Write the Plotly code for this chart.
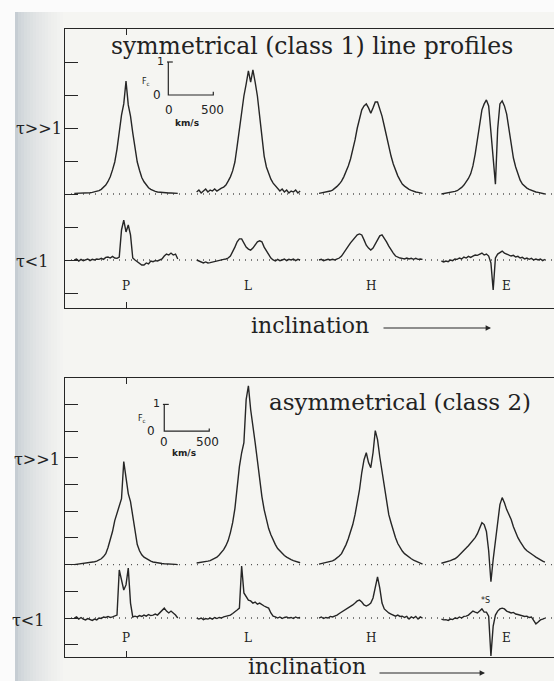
import plotly.graph_objects as go

FIG_W, FIG_H = 554, 681

# ---------------------------------------------------------------------------
# Line-profile data.  Velocity grid (km/s) shared by every profile; flux in
# units of the continuum (Fc).  Each panel has four inclination blocks.
# ---------------------------------------------------------------------------
VELOCITY_KMS = [-575, -550, -525, -500, -475, -450, -425, -400, -375, -350, -325, -300,
                -275, -250, -225, -200, -175, -150, -125, -100, -75, -50, -25, 0,
                25, 50, 75, 100, 125, 150, 175, 200, 225, 250, 275, 300, 325, 350,
                375, 400, 425, 450, 475, 500, 525, 550, 575]

PROFILE_LABELS = ["P", "L", "H", "E"]
PROFILE_OFFSET_KMS = [0, 1360, 2720, 4080]   # spacing of the inclination blocks
LABEL_SHIFT_KMS = [0, 0, 0, 150]
THICK_BASELINE = 2.0   # tau >> 1 row sits 2 Fc above the tau < 1 row
THIN_BASELINE = 0.0

# class 1 (symmetrical), tau >> 1
sym_thick_P = [0.02, 0.02, 0.02, 0.03, 0.03, 0.03, 0.04, 0.04, 0.05, 0.06, 0.08, 0.10,
               0.14, 0.20, 0.27, 0.38, 0.52, 0.73, 0.97, 1.36, 1.88, 2.39, 2.73, 3.42,
               2.70, 2.36, 1.85, 1.36, 0.97, 0.72, 0.50, 0.37, 0.26, 0.19, 0.14, 0.10,
               0.08, 0.06, 0.05, 0.04, 0.04, 0.03, 0.03, 0.03, 0.02, 0.02, 0.02]
sym_thick_L = [0.06, 0.12, 0.03, 0.09, 0.15, 0.06, 0.12, 0.09, 0.15, 0.09, 0.15, 0.18,
               0.21, 0.27, 0.39, 0.52, 0.70, 0.97, 1.45, 2.00, 2.48, 2.97, 3.33, 3.73,
               3.39, 3.76, 3.39, 2.97, 2.36, 1.76, 1.15, 0.82, 0.61, 0.45, 0.33, 0.24,
               0.15, 0.09, 0.15, 0.06, 0.12, 0.03, 0.09, 0.06, 0.12, 0.03, 0.09]
sym_thick_H = [0.02, 0.03, 0.05, 0.06, 0.08, 0.09, 0.12, 0.17, 0.23, 0.30, 0.39, 0.52,
               0.67, 0.85, 1.06, 1.33, 1.64, 2.00, 2.33, 2.55, 2.67, 2.73, 2.61, 2.45,
               2.61, 2.79, 2.79, 2.58, 2.36, 2.06, 1.73, 1.42, 1.15, 0.91, 0.70, 0.55,
               0.42, 0.30, 0.24, 0.18, 0.14, 0.11, 0.08, 0.06, 0.05, 0.03, 0.02]
sym_thick_E = [0.00, 0.01, 0.02, 0.04, 0.05, 0.06, 0.08, 0.10, 0.14, 0.20, 0.27, 0.36,
               0.47, 0.61, 0.85, 1.21, 1.64, 2.18, 2.55, 2.73, 2.85, 2.67, 1.88, 0.85,
               0.30, 1.97, 2.73, 2.82, 2.67, 2.42, 2.00, 1.52, 1.09, 0.82, 0.58, 0.42,
               0.30, 0.23, 0.18, 0.14, 0.11, 0.08, 0.06, 0.05, 0.03, 0.02, 0.00]

# class 1 (symmetrical), tau < 1
sym_thin_P = [0.00, 0.03, -0.03, 0.02, -0.02, 0.00, 0.03, -0.02, 0.02, 0.00, 0.03, 0.02,
              0.05, 0.02, 0.08, 0.09, 0.06, 0.11, 0.06, 0.05, 0.09, 0.91, 1.21, 0.85,
              1.06, 0.76, 0.06, 0.00, -0.06, -0.09, -0.15, -0.15, -0.09, -0.12, -0.03, -0.05,
              -0.02, -0.03, 0.00, 0.03, 0.12, 0.18, 0.15, 0.21, 0.15, 0.18, 0.03]
sym_thin_L = [0.00, -0.03, -0.06, -0.09, -0.06, -0.09, -0.08, -0.06, -0.05, -0.03, -0.02, 0.00,
              0.02, 0.03, 0.06, 0.12, 0.24, 0.39, 0.55, 0.64, 0.64, 0.52, 0.39, 0.33,
              0.30, 0.36, 0.45, 0.55, 0.58, 0.55, 0.39, 0.27, 0.15, 0.06, 0.00, -0.03,
              0.02, -0.02, 0.00, 0.03, -0.02, 0.02, 0.00, 0.03, -0.02, 0.02, 0.00]
sym_thin_H = [0.00, 0.02, -0.02, 0.00, 0.02, 0.00, 0.02, 0.00, 0.03, 0.06, 0.12, 0.21,
              0.30, 0.42, 0.52, 0.61, 0.70, 0.76, 0.79, 0.76, 0.61, 0.45, 0.36, 0.30,
              0.36, 0.48, 0.61, 0.73, 0.76, 0.67, 0.55, 0.42, 0.30, 0.21, 0.12, 0.08,
              0.06, 0.05, 0.03, 0.06, 0.03, 0.05, 0.02, 0.05, 0.02, 0.03, 0.02]
sym_thin_E = [-0.03, -0.06, -0.03, -0.05, 0.00, -0.02, 0.03, 0.02, 0.06, 0.03, 0.09, 0.06,
              0.11, 0.08, 0.12, 0.15, 0.14, 0.18, 0.21, 0.15, 0.18, 0.12, -0.09, -0.91,
              0.06, 0.18, 0.24, 0.27, 0.21, 0.18, 0.15, 0.12, 0.14, 0.09, 0.11, 0.06,
              0.08, 0.03, 0.06, 0.02, 0.05, 0.00, 0.03, 0.00, 0.03, -0.02, 0.02]

# class 2 (asymmetrical), tau >> 1
asym_thick_P = [0.00, 0.01, 0.02, 0.03, 0.04, 0.05, 0.06, 0.07, 0.09, 0.11, 0.13, 0.17,
                0.22, 0.30, 0.41, 0.64, 0.94, 1.24, 1.65, 1.91, 2.13, 2.47, 3.86, 3.18,
                2.66, 2.36, 1.84, 1.20, 0.75, 0.52, 0.37, 0.28, 0.22, 0.17, 0.13, 0.10,
                0.08, 0.07, 0.05, 0.04, 0.03, 0.03, 0.02, 0.01, 0.01, 0.01, 0.00]
asym_thick_L = [0.06, 0.07, 0.08, 0.10, 0.11, 0.13, 0.15, 0.19, 0.22, 0.28, 0.36, 0.45,
                0.56, 0.71, 0.90, 1.20, 1.57, 2.10, 2.92, 3.67, 4.19, 4.57, 6.18, 6.70,
                5.81, 5.24, 4.57, 3.90, 3.15, 2.55, 2.06, 1.69, 1.35, 1.12, 0.90, 0.75,
                0.60, 0.51, 0.41, 0.34, 0.28, 0.22, 0.19, 0.15, 0.12, 0.10, 0.07]
asym_thick_H = [0.02, 0.04, 0.05, 0.06, 0.08, 0.11, 0.14, 0.19, 0.24, 0.32, 0.41, 0.56,
                0.75, 0.97, 1.24, 1.50, 1.87, 2.32, 2.81, 3.45, 3.93, 4.19, 3.82, 3.63,
                4.19, 5.02, 4.68, 4.04, 3.45, 2.92, 2.32, 1.87, 1.57, 1.24, 1.01, 0.79,
                0.64, 0.51, 0.41, 0.34, 0.28, 0.22, 0.17, 0.13, 0.09, 0.06, 0.02]
asym_thick_E = [0.05, 0.07, 0.09, 0.12, 0.15, 0.19, 0.22, 0.28, 0.36, 0.43, 0.52, 0.62,
                0.71, 0.81, 0.90, 1.01, 1.16, 1.35, 1.57, 1.50, 1.24, 0.52, -0.64, 0.19,
                0.90, 1.65, 2.25, 2.51, 2.32, 2.06, 1.87, 1.69, 1.42, 1.20, 1.01, 0.86,
                0.71, 0.60, 0.52, 0.45, 0.39, 0.34, 0.28, 0.22, 0.17, 0.13, 0.09]

# class 2 (asymmetrical), tau < 1
asym_thin_P = [0.00, 0.04, -0.04, 0.02, -0.04, -0.07, -0.02, -0.06, -0.09, -0.04, -0.07, 0.00,
               -0.02, 0.04, 0.02, 0.06, 0.02, 0.04, 0.07, 0.11, 1.80, 1.35, 1.05, 1.24,
               1.87, 0.56, 0.04, 0.07, 0.04, 0.09, 0.06, 0.11, 0.07, 0.13, 0.09, 0.11,
               0.15, 0.11, 0.19, 0.26, 0.37, 0.26, 0.19, 0.26, 0.19, 0.11, 0.00]
asym_thin_L = [0.00, -0.04, 0.00, -0.06, -0.02, -0.04, 0.00, -0.04, 0.02, -0.02, 0.02, 0.00,
               0.04, 0.06, 0.07, 0.11, 0.17, 0.22, 0.30, 0.37, 1.95, 0.94, 0.79, 0.67,
               0.64, 0.56, 0.60, 0.52, 0.56, 0.49, 0.45, 0.41, 0.37, 0.19, 0.07, 0.04,
               0.00, 0.04, -0.02, 0.02, 0.04, 0.00, 0.02, -0.02, 0.04, 0.00, 0.02]
asym_thin_H = [0.00, 0.04, -0.02, 0.02, 0.00, 0.06, 0.04, 0.07, 0.11, 0.17, 0.22, 0.30,
               0.34, 0.39, 0.45, 0.49, 0.56, 0.64, 0.67, 0.60, 0.49, 0.45, 0.49, 0.56,
               0.75, 1.20, 1.54, 1.12, 0.56, 0.34, 0.26, 0.19, 0.15, 0.11, 0.07, 0.11,
               0.06, 0.07, 0.02, 0.06, -0.04, 0.04, 0.00, 0.06, -0.04, 0.04, 0.00]
asym_thin_E = [-0.04, -0.07, -0.06, -0.09, -0.04, -0.06, 0.00, -0.02, 0.04, 0.00, 0.06, 0.07,
               0.11, 0.17, 0.26, 0.22, 0.19, 0.26, 0.34, 0.22, 0.22, 0.07, -1.42, -0.30,
               0.11, 0.26, 0.34, 0.37, 0.34, 0.26, 0.22, 0.19, 0.21, 0.15, 0.13, 0.11,
               0.09, 0.06, 0.07, 0.02, 0.04, -0.11, -0.22, -0.15, -0.07, -0.04, 0.00]

# scale-bar lengths of the small inset axes
SCALE_FLUX = 1.0
SCALE_VEL = 500

# ---------------------------------------------------------------------------
INK = "#262626"
TEXT = "#222222"
PAGE = "#f5f5f2"
SERIF = "DejaVu Serif"
SANS = "DejaVu Sans"


def pfx(x):
    """pixel column -> paper fraction (margins are zero)"""
    return x / FIG_W


def pfy(y):
    """pixel row (from top) -> paper fraction"""
    return 1 - y / FIG_H


X_RANGE = [-678, 4756]

panels = [
    dict(xa="x", ya="y",
         y_pix=(29, 308), y_range=[-1.4545, 7.0], ticks=list(range(-1, 7)),
         thick=[sym_thick_P, sym_thick_L, sym_thick_H, sym_thick_E],
         thin=[sym_thin_P, sym_thin_L, sym_thin_H, sym_thin_E],
         label_y=-0.79, inset=(470, 5.0),
         inset_text=dict(one=(-2, 1), zero=(-5, 0), fc=(-22, 13), v0=(1, -15), v500=(-1, -15), kms=(19, -28)),
         title="symmetrical (class 1) line profiles", title_xy=(312, 46), title_size=23.5,
         tau_thick_xy=(14, 128), tau_thin_xy=(14, 261),
         incl_xy=(310, 326), arrow=(382, 491, 328)),
    dict(xa="x2", ya="y3",
         y_pix=(378, 657), y_range=[-1.46, 8.99], ticks=list(range(-1, 9)),
         thick=[asym_thick_P, asym_thick_L, asym_thick_H, asym_thick_E],
         thin=[asym_thin_P, asym_thin_L, asym_thin_H, asym_thin_E],
         label_y=-0.75, inset=(425, 7.0),
         inset_text=dict(one=(-2, 1), zero=(-7, 0), fc=(-22, 12), v0=(0, -11), v500=(-2, -11), kms=(20, -22)),
         title="asymmetrical (class 2)", title_xy=(400, 402), title_size=23,
         tau_thick_xy=(12, 459), tau_thin_xy=(10, 620),
         incl_xy=(307, 666), arrow=(378, 485, 673)),
]

fig = go.Figure()
annotations = []
shapes = []


def note(x, y, text, xref="paper", yref="paper", xanchor="center", yanchor="middle", **kw):
    annotations.append(dict(x=x, y=y, xref=xref, yref=yref, text=text, showarrow=False,
                            xanchor=xanchor, yanchor=yanchor, **kw))


for panel in panels:
    xa, ya = panel["xa"], panel["ya"]
    # profiles
    for k, name in enumerate(PROFILE_LABELS):
        off = PROFILE_OFFSET_KMS[k]
        xs = [off + v for v in VELOCITY_KMS]
        for base, series in ((THICK_BASELINE, panel["thick"][k]), (THIN_BASELINE, panel["thin"][k])):
            fig.add_trace(go.Scatter(
                x=xs, y=[base + f for f in series], mode="lines",
                line=dict(color=INK, width=1.4), xaxis=xa, yaxis=ya,
                hoverinfo="skip", showlegend=False))
        note(off + LABEL_SHIFT_KMS[k], panel["label_y"], name, xref=xa, yref=ya,
             font=dict(family=SERIF, size=12, color=TEXT))

    # dotted continuum levels
    for base in (THICK_BASELINE, THIN_BASELINE):
        shapes.append(dict(type="line", xref=f"{xa} domain", x0=0, x1=1, yref=ya, y0=base, y1=base,
                           line=dict(color="#555555", width=1.4, dash="1px,5px"), layer="below"))

    # inset scale bar: 1 Fc vertically, 500 km/s horizontally
    ox, oy = panel["inset"]
    fig.add_trace(go.Scatter(
        x=[ox - 15, ox + 50, None, ox, ox, ox + SCALE_VEL, ox + SCALE_VEL],
        y=[oy + SCALE_FLUX, oy + SCALE_FLUX, None, oy + SCALE_FLUX, oy, oy, oy + 0.1],
        mode="lines", line=dict(color=INK, width=1.2), xaxis=xa, yaxis=ya,
        hoverinfo="skip", showlegend=False))
    it = panel["inset_text"]
    small = dict(family=SANS, size=12, color=TEXT)
    note(ox, oy + SCALE_FLUX, "1", xref=xa, yref=ya, xanchor="right",
         xshift=it["one"][0], yshift=it["one"][1], font=dict(family=SANS, size=11, color=TEXT))
    note(ox, oy, "0", xref=xa, yref=ya, xanchor="right",
         xshift=it["zero"][0], yshift=it["zero"][1], font=small)
    note(ox, oy, "F<sub>c</sub>", xref=xa, yref=ya,
         xshift=it["fc"][0], yshift=it["fc"][1], font=dict(family=SANS, size=8, color=TEXT))
    note(ox, oy, "0", xref=xa, yref=ya, xshift=it["v0"][0], yshift=it["v0"][1], font=small)
    note(ox + SCALE_VEL, oy, "500", xref=xa, yref=ya,
         xshift=it["v500"][0], yshift=it["v500"][1], font=small)
    note(ox, oy, "<b>km/s</b>", xref=xa, yref=ya, xshift=it["kms"][0], yshift=it["kms"][1],
         font=dict(family=SANS, size=9, color=TEXT))

    # panel texts
    tx, ty = panel["title_xy"]
    note(pfx(tx), pfy(ty), panel["title"],
         font=dict(family=SERIF, size=panel["title_size"], color=TEXT))
    for key, txt in (("tau_thick_xy", "τ>>1"), ("tau_thin_xy", "τ<1")):
        lx, ly = panel[key]
        note(pfx(lx), pfy(ly), txt, xanchor="left", font=dict(family=SERIF, size=16, color=TEXT))
    ix, iy = panel["incl_xy"]
    note(pfx(ix), pfy(iy), "inclination", font=dict(family=SERIF, size=22, color=TEXT))
    a0, a1, ay = panel["arrow"]
    annotations.append(dict(x=pfx(a1), y=pfy(ay), xref="paper", yref="paper", text="",
                            showarrow=True, ax=a0 - a1, ay=0, arrowhead=2, arrowsize=0.9,
                            arrowwidth=1.2, arrowcolor=INK))

# small marker above the E dip in the class 2 tau < 1 profile
note(4000, 0.66, "*S", xref="x2", yref="y3", font=dict(family=SANS, size=8, color=TEXT))

# scanned-page shadow along the left edge
shapes.append(dict(type="rect", xref="paper", yref="paper", x0=0, x1=pfx(15), y0=0, y1=1,
                   fillcolor="#fbfbfb", line=dict(width=0), layer="below"))
shade_lo = (198, 205, 211)
shade_hi = (245, 245, 242)
n_steps = 17
for i in range(n_steps):
    t = (i / (n_steps - 1)) ** 0.6
    c = tuple(round(a + (b - a) * t) for a, b in zip(shade_lo, shade_hi))
    x0 = 15 + i * 3
    shapes.append(dict(type="rect", xref="paper", yref="paper", x0=pfx(x0), x1=pfx(x0 + 3.2),
                       y0=0, y1=pfy(12), fillcolor=f"rgb{c}", line=dict(width=0), layer="below"))
shapes.append(dict(type="rect", xref="paper", yref="paper", x0=0, x1=1, y0=pfy(12), y1=1,
                   fillcolor="#fbfbfb", line=dict(width=0), layer="below"))

axis_common = dict(showgrid=False, zeroline=False, showticklabels=False,
                   linecolor=INK, linewidth=1.3, tickcolor=INK, tickwidth=1.2)
layout_axes = {}
for i, panel in enumerate(panels):
    xkey = "xaxis" if i == 0 else "xaxis2"
    ykey = "yaxis" if i == 0 else "yaxis3"
    rkey = "yaxis2" if i == 0 else "yaxis4"
    y0p, y1p = panel["y_pix"]
    dom = [pfy(y1p), pfy(y0p)]
    layout_axes[xkey] = dict(domain=[pfx(65), 1], range=X_RANGE, anchor=panel["ya"],
                             tickvals=[0], ticks="inside", ticklen=6, showline=True,
                             mirror="ticks", **axis_common)
    layout_axes[ykey] = dict(domain=dom, range=panel["y_range"], anchor=panel["xa"],
                             tickvals=panel["ticks"], ticks="inside", ticklen=13,
                             showline=True, **axis_common)
    layout_axes[rkey] = dict(overlaying=panel["ya"], side="right", anchor=panel["xa"],
                             range=panel["y_range"], tickvals=panel["ticks"], ticks="inside",
                             ticklen=12, showline=False, showgrid=False, zeroline=False,
                             showticklabels=False, tickcolor=INK, tickwidth=1.2)

fig.update_layout(
    width=FIG_W, height=FIG_H,
    margin=dict(l=0, r=0, t=0, b=0),
    paper_bgcolor=PAGE, plot_bgcolor="rgba(0,0,0,0)",
    showlegend=False,
    annotations=annotations, shapes=shapes,
    **layout_axes,
)

fig.write_html("out.html")
